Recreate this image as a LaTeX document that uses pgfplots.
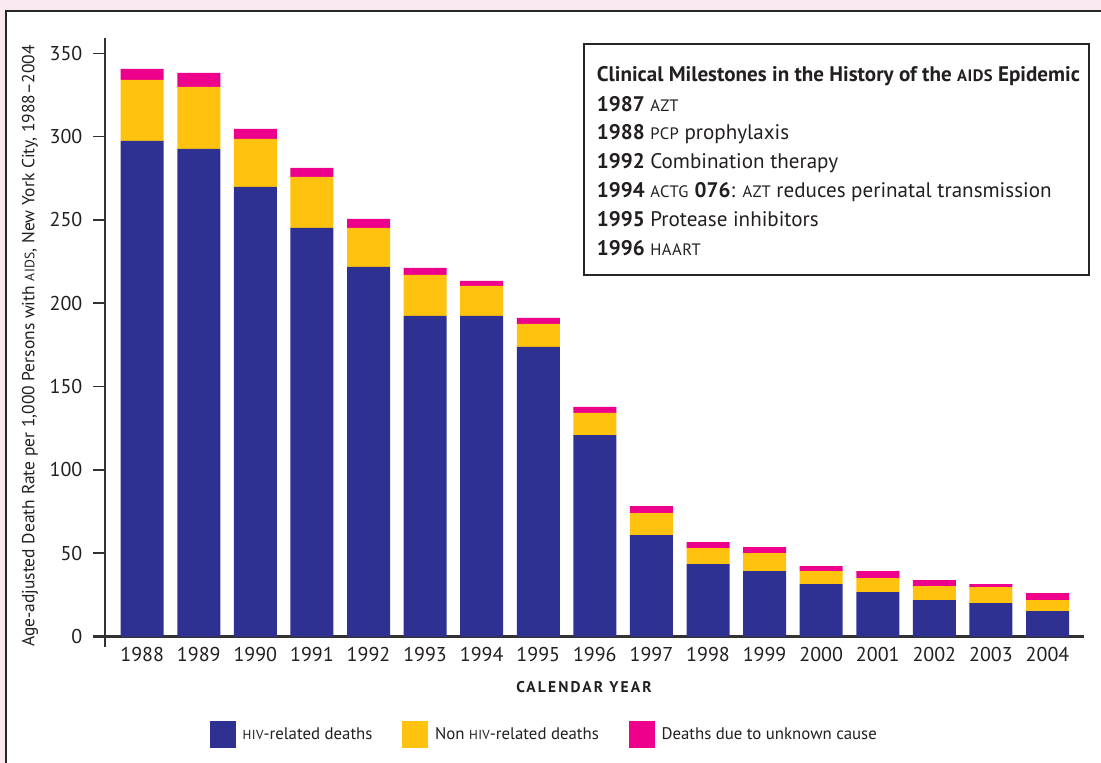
\documentclass[border=0pt]{standalone}
\usepackage{pgfplots}
\pgfplotsset{compat=1.18}
\usepackage{pgfplotstable}
\usepackage{fontspec}
\setmainfont{PT Sans}
\definecolor{hivblue}{RGB}{46,49,146}
\definecolor{nonyellow}{RGB}{255,194,14}
\definecolor{unkpink}{RGB}{236,0,140}
\definecolor{bgpink}{RGB}{248,234,240}
\definecolor{txt}{RGB}{35,31,32}
\definecolor{axgray}{RGB}{50,50,50}
\newcommand\sca[2]{{\fontsize{#1}{#1}\selectfont\addfontfeature{LetterSpace=3}#2}}

\pgfplotstableread{
year hiv non unk
1988 297.4 36.6 6.6
1989 292.6 37.2 8.4
1990 269.8 28.8 6.0
1991 245.2 30.6 5.4
1992 221.8 23.4 5.4
1993 192.4 24.6 4.2
1994 192.4 18.0 3.0
1995 173.8 13.8 3.6
1996 120.9 13.3 3.6
1997 60.9 13.2 4.2
1998 43.5 9.6 3.6
1999 39.3 10.8 3.6
2000 31.5 7.8 3.0
2001 26.7 8.4 4.2
2002 21.9 8.4 3.6
2003 20.1 9.6 1.8
2004 15.3 6.6 4.2
}\deaths

\begin{document}
\begin{tikzpicture}
\path[use as bounding box] (0,0) rectangle (825.75pt,-572.25pt);
\fill[bgpink] (0,0) rectangle (825.75pt,-572.25pt);
\begin{scope}
\clip (0,0) rectangle (825.75pt,-572.25pt);
\filldraw[fill=white, draw=black!85, line width=1.5pt] (4.5pt,-8.25pt) rectangle (840pt,-590pt);
\end{scope}
\begin{axis}[
  at={(78.75pt,-477.375pt)}, anchor=south west,
  scale only axis, width=734.25pt, height=448.875pt,
  ybar stacked, bar width=32.25pt,
  xmin=1987.343, xmax=2004.645, ymin=0, ymax=359.2,
  clip=false,
  axis lines*=left, axis line style={draw=none},
  xtick=data, xtick style={draw=none},
  ytick={0,50,...,350},
  tick align=outside, major tick length=9pt,
  ytick style={line width=1.2pt, color=axgray},
  /pgf/number format/assume math mode=true,
  /pgf/number format/1000 sep={},
  tick label style={font=\fontsize{15}{17}\selectfont, text=txt},
  xticklabel style={anchor=base, yshift=-9.5pt},
  yticklabel style={anchor=east, xshift=-4.5pt},
  xlabel={\addfontfeature{LetterSpace=14}\bfseries CALENDAR YEAR},
  xlabel style={at={(rel axis cs:0.4893,0)}, anchor=base, yshift=-42.15pt, font=\fontsize{11.6}{12}\selectfont, text=txt},
  ylabel={Age-adjusted Death Rate per 1,000 Persons with \sca{10.2pt}{AIDS}, New York City, 1988--2004},
  ylabel style={at={(axis description cs:-0.0766,0.4854)}, anchor=center, font=\fontsize{13.1}{14}\selectfont, text=txt},
  legend columns=3,
  legend image code/.code={\fill[#1] (0pt,-10pt) rectangle (19.5pt,10.25pt);},
  legend style={draw=none, fill=none, inner sep=0pt, outer sep=0pt,
    at={(rel axis cs:0.1073,-0.1634)}, anchor=west,
    font=\fontsize{12.6}{14}\selectfont, text=txt,
    /tikz/every odd column/.append style={column sep=3pt},
    /tikz/every even column/.append style={column sep=20.5pt}},
  legend cell align=left,
]
\addplot[fill=hivblue, draw=none] table[x=year,y=hiv]{\deaths};
\addplot[fill=nonyellow, draw=none] table[x=year,y=non]{\deaths};
\addplot[fill=unkpink, draw=none] table[x=year,y=unk]{\deaths};
\legend{\sca{9.8pt}{HIV}-related deaths, Non \sca{9.8pt}{HIV}-related deaths, Deaths due to unknown cause}
\draw[axgray, line width=1.5pt] (rel axis cs:0,1) -- ([yshift=-7.5pt]rel axis cs:0,0);
\draw[axgray, line width=1.9pt] ([xshift=-9pt]rel axis cs:0,0) -- (rel axis cs:1,0);
\end{axis}
\draw[black!85, line width=1.1pt, fill=white] (438pt,-33pt) rectangle (816.75pt,-206.25pt);
\begin{scope}[every node/.style={anchor=base west, inner sep=0pt, text=txt, font=\fontsize{15.8}{17}\selectfont}]
\node at (447.5pt,-61.3pt) {\bfseries Clinical Milestones in the History of the \sca{12.4pt}{AIDS} Epidemic};
\node at (447.5pt,-83.8pt) {\textbf{1987} \sca{12.4pt}{AZT}};
\node at (447.5pt,-105pt) {\textbf{1988} \sca{12.4pt}{PCP} prophylaxis};
\node at (447.5pt,-126.75pt) {\textbf{1992} Combination therapy};
\node at (447.5pt,-148.5pt) {\textbf{1994} \sca{12.4pt}{ACTG} \textbf{076}: \sca{12.4pt}{AZT} reduces perinatal transmission};
\node at (447.5pt,-170.25pt) {\textbf{1995} Protease inhibitors};
\node at (447.5pt,-192pt) {\textbf{1996} \sca{12.4pt}{HAART}};
\end{scope}
\end{tikzpicture}
\end{document}
